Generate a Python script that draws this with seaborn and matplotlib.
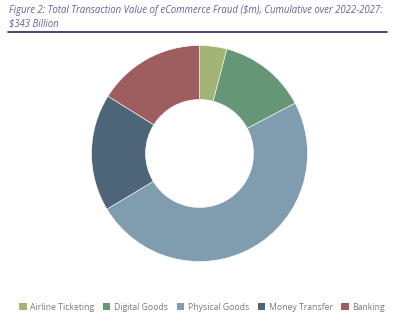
import matplotlib
matplotlib.use("Agg")
import matplotlib.pyplot as plt
import seaborn as sns
import pandas as pd
from matplotlib.patches import Patch
from matplotlib.lines import Line2D

categories = ["Airline Ticketing", "Digital Goods", "Physical Goods", "Money Transfer", "Banking"]
values = [14.0, 45.3, 168.4, 60.1, 55.2]  # $bn, cumulative 2022-2027
colors = ["#a2b577", "#659675", "#7f9dae", "#4e6478", "#9e5e5f"]

title = "Figure 2: Total Transaction Value of eCommerce Fraud ($m), Cumulative over 2022-2027:\n$343 Billion"

sns.set_style("white")
plt.rcParams['font.family'] = ['Open Sans', 'DejaVu Sans']

df = pd.DataFrame({"category": categories, "value": values, "color": colors})

fig = plt.figure(figsize=(4, 3.25), dpi=100)
ax = fig.add_axes([0.2288, 0.1954, 0.54, 0.6646])
ax.pie(df["value"], colors=df["color"], startangle=90, counterclock=False,
       wedgeprops=dict(width=0.5, edgecolor="white", linewidth=0.4))
ax.set_xlim(-1, 1)
ax.set_ylim(-1, 1)
ax.set_aspect("equal")

fig.text(9/400, 1 - 5/325, title, ha="left", va="top", fontsize=6.9,
         style="italic", color="#6d6090", linespacing=1.4)
fig.add_artist(Line2D([8/400, 387/400], [1 - 32/325, 1 - 32/325],
                      color="#3b1d5e", linewidth=1.2))

handles = [Patch(facecolor=c, edgecolor="none") for c in df["color"]]
fig.legend(handles, df["category"], loc="center", bbox_to_anchor=(0.505, 1 - 307/325),
           ncol=5, frameon=False, fontsize=6.2, handlelength=0.9, handleheight=0.9,
           handletextpad=0.4, columnspacing=1.0, labelcolor="#7a7a7a")

fig.savefig("out.png", dpi=100)
